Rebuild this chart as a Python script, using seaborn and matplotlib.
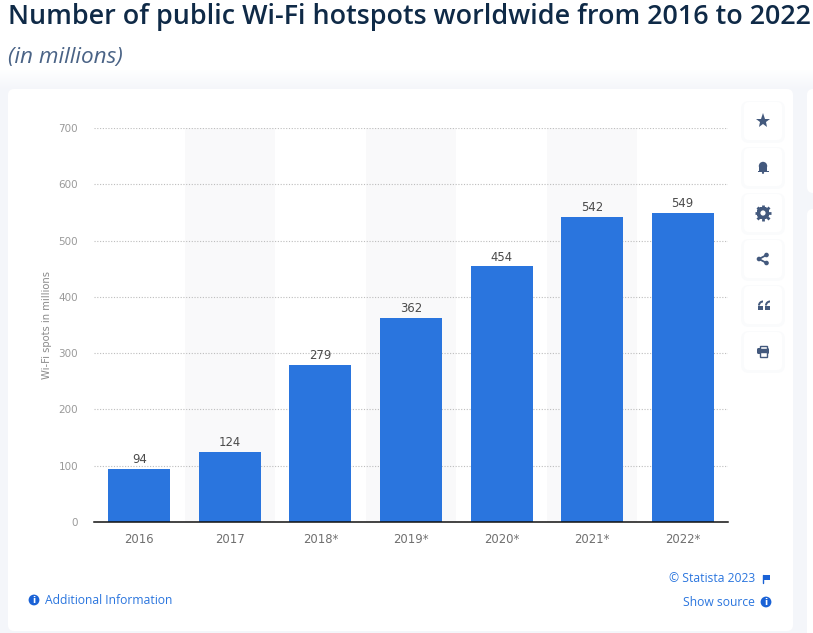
import matplotlib
matplotlib.use('Agg')
import pandas as pd
import seaborn as sns
import matplotlib.pyplot as plt
from matplotlib.patches import FancyBboxPatch, Circle, Rectangle, Wedge

years = ['2016', '2017', '2018*', '2019*', '2020*', '2021*', '2022*']
hotspots = [94, 124, 279, 362, 454, 542, 549]
y_ticks = [0, 100, 200, 300, 400, 500, 600, 700]

title = 'Number of public Wi-Fi hotspots worldwide from 2016 to 2022'
subtitle = '(in millions)'
y_label = 'Wi-Fi spots in millions'

W, H = 813, 633
BLUE = '#2a75de'
LINK = '#2a75de'
ICON = '#43597d'
PAGE = '#f4f6fa'

sns.set_theme(style='white')
plt.rcParams['font.family'] = ['DejaVu Sans']

fig = plt.figure(figsize=(W / 100, H / 100), dpi=100, facecolor='white')

# page layer in pixel coordinates, y going down like the screenshot
bg = fig.add_axes([0, 0, 1, 1], zorder=0)
bg.set_xlim(0, W)
bg.set_ylim(H, 0)
bg.axis('off')

# page fades from white at the top into the pale grey round the cards
for step in range(20):
    bg.add_patch(Rectangle((0, 70 + step), W, 1.2, fc=PAGE, ec='none',
                           alpha=(step + 1) / 20, zorder=0))
bg.add_patch(Rectangle((0, 90), W, H - 90, fc=PAGE, ec='none', zorder=0))


def card(x0, y0, x1, y1, r=6, fc='white', z=1):
    bg.add_patch(FancyBboxPatch((x0, y0), x1 - x0, y1 - y0,
                                boxstyle=f'round,pad=0,rounding_size={r}',
                                fc=fc, ec='none', zorder=z))


card(8, 89, 793, 631)
card(807, 89, 830, 193)
card(807, 209, 830, 640)

# side buttons with a faint shadow
button_y = [121, 167, 213, 259, 305, 351]
for cy in button_y:
    card(741, cy - 20, 785, cy + 22, r=8, fc='#fafbfc', z=2)
for cy in button_y:
    card(744, cy - 19, 782, cy + 19, r=5, z=2.5)

# star
bg.plot(763, 121, marker='*', ms=11, color=ICON, mew=0, zorder=3)
# bell
bg.add_patch(Circle((763, 166), 4.2, fc=ICON, ec='none', zorder=3))
bg.add_patch(Rectangle((758.8, 166), 8.4, 5, fc=ICON, ec='none', zorder=3))
bg.add_patch(Rectangle((757.5, 171), 11, 1.3, fc=ICON, ec='none', zorder=3))
bg.add_patch(Circle((763, 172.8), 1.1, fc=ICON, ec='none', zorder=3))
# gear
bg.plot(763, 213, marker='8', ms=10, color=ICON, mew=0, zorder=3)
bg.plot(763, 213, marker='+', ms=12, color=ICON, mew=2, zorder=3)
bg.plot(763, 213, marker='x', ms=9, color=ICON, mew=2, zorder=3)
bg.add_patch(Circle((763, 213), 2.6, fc='white', ec='none', zorder=4))
# share
bg.plot([766.5, 759, 766.5], [255, 259, 263], color=ICON, lw=1.3, zorder=3)
for sx, sy in [(766.5, 255), (759, 259), (766.5, 263)]:
    bg.add_patch(Circle((sx, sy), 2.3, fc=ICON, ec='none', zorder=3))
# quote
for qx in [758, 765]:
    bg.add_patch(Rectangle((qx, 305.5), 5, 4, fc=ICON, ec='none', zorder=3))
    bg.add_patch(Wedge((qx + 5, 305.5), 5, 180, 270, width=2, fc=ICON, ec='none', zorder=3))
# print
bg.add_patch(FancyBboxPatch((757, 348), 12, 6, boxstyle='round,pad=0,rounding_size=1.5',
                            fc=ICON, ec='none', zorder=3))
bg.add_patch(Rectangle((759.5, 345.5), 7, 3, fc='white', ec=ICON, lw=1, zorder=3))
bg.add_patch(Rectangle((759.5, 352), 7, 4.5, fc='white', ec=ICON, lw=1, zorder=3))

# titles
bg.text(8, 17, title, fontsize=19.35, fontweight=600, color='#0f2a47',
        family=['Open Sans'], va='center', ha='left', zorder=3)
bg.text(8, 57, subtitle, fontsize=16.2, style='italic', color='#4a6386',
        family=['Open Sans'], va='center', ha='left', zorder=3)


def info_dot(x, y):
    bg.add_patch(Circle((x, y), 5.4, fc='#1a62d6', ec='none', zorder=3))
    bg.text(x, y + 0.2, 'i', fontsize=6.5, fontweight='bold', color='white',
            ha='center', va='center', zorder=4)


# footer links
info_dot(34, 600)
bg.text(45, 600.5, 'Additional Information', fontsize=8.7, color=LINK,
        family=['Open Sans'], va='center', ha='left', zorder=3)
bg.text(755, 578.5, '\u00a9 Statista 2023', fontsize=8.7, color=LINK,
        family=['Open Sans'], va='center', ha='right', zorder=3)
bg.text(755, 602.5, 'Show source', fontsize=8.7, color=LINK,
        family=['Open Sans'], va='center', ha='right', zorder=3)
info_dot(766, 602)
bg.plot([763, 763], [575, 583], color='#1a62d6', lw=1, zorder=3)
bg.add_patch(Rectangle((763, 575), 6.5, 4.5, fc='#1a62d6', ec='none', zorder=3))

# chart
ax = fig.add_axes([94 / W, 1 - 522 / H, 634 / W, 394 / H], zorder=2)
ax.patch.set_alpha(0)

df = pd.DataFrame({'year': years, 'hotspots': hotspots})
sns.barplot(data=df, x='year', y='hotspots', color=BLUE, saturation=1,
            width=0.685, linewidth=0, ax=ax, zorder=3)

for i in range(1, len(years), 2):
    ax.axvspan(i - 0.5, i + 0.5, color='#f9f9fa', lw=0, zorder=0)

ax.set_xlim(-0.5, len(years) - 0.5)
ax.set_ylim(0, 700)
ax.set_yticks(y_ticks)
ax.grid(axis='y', color='#bdbdbd', linestyle=(0, (1, 1.5)), linewidth=0.8, zorder=1)
ax.set_axisbelow(True)

for s in ['top', 'right', 'left']:
    ax.spines[s].set_visible(False)
ax.spines['bottom'].set_color('#111111')
ax.spines['bottom'].set_linewidth(1.1)
ax.spines['bottom'].set_zorder(5)

ax.tick_params(axis='x', length=0, pad=8, labelsize=8.4, labelcolor='#6f6f6f')
ax.tick_params(axis='y', length=0, pad=11.5, labelsize=7.5, labelcolor='#9a9a9a')
ax.set_xlabel('')
ax.set_ylabel(y_label, fontsize=7.2, color='#8a8a8a', labelpad=4.5)

ax.bar_label(ax.containers[0], fontsize=8.4, color='#4a4a4a', padding=2)

fig.savefig('out.png', dpi=100, facecolor=fig.get_facecolor())
